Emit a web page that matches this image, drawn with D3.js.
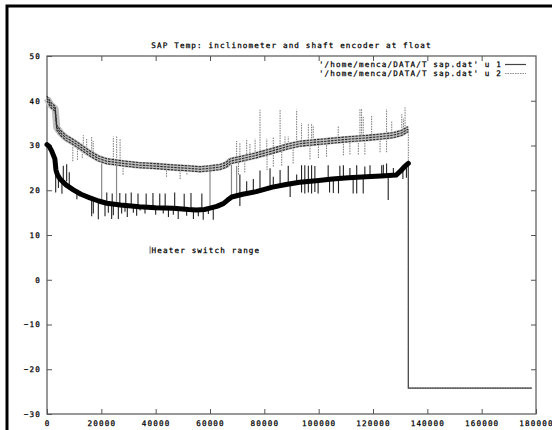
<!DOCTYPE html>
<html>
<head>
<meta charset="utf-8">
<script src="https://cdn.jsdelivr.net/npm/d3@7"></script>
<style>
  body { margin: 0; background: #fff; }
  text { font-family: "DejaVu Sans Mono", "Liberation Mono", monospace; font-size: 7.6px; letter-spacing: 1.15px; fill: #000; stroke: #000; stroke-width: 0.25px; }
</style>
</head>
<body>
<svg id="chart" width="552" height="430"></svg>
<script>
// ---- data -------------------------------------------------------------
const titleText = "SAP Temp: inclinometer and shaft encoder at float";
const seriesNames = ["'/home/menca/DATA/T sap.dat' u 1", "'/home/menca/DATA/T sap.dat' u 2"];
const noteText = "Heater switch range";
const notePos = [38500, 6.6];

const xTicks = [0, 20000, 40000, 60000, 80000, 100000, 120000, 140000, 160000, 180000];
const yTicks = [-30, -20, -10, 0, 10, 20, 30, 40, 50];

// inclinometer temperature, main trace [time, degC]
const u1Trace = [
  [0, 30.2], [800, 29.8], [1700, 28.8], [2900, 27.0], [3300, 24.5], [3800, 23.5],
  [4800, 22.5], [7000, 21.2], [9700, 20.1], [12500, 19.1], [15800, 18.3], [19000, 17.6],
  [22000, 17.1], [27000, 16.7], [34000, 16.3], [40000, 16.1], [46500, 16.0], [52000, 15.7],
  [55000, 15.6], [58000, 15.7], [60000, 16.0], [62500, 16.4], [64900, 17.0], [66500, 17.8],
  [68000, 18.5], [72000, 19.1], [77000, 19.7], [83000, 20.7], [88000, 21.3], [93000, 21.8],
  [100000, 22.2], [105000, 22.5], [111000, 22.8], [117500, 23.0], [123000, 23.2],
  [128500, 23.4], [130000, 24.2], [131500, 25.2], [133000, 26.0]
];

// shaft encoder temperature, main trace [time, degC]
const u2Trace = [
  [0, 40.5], [1500, 39.0], [3000, 38.2], [3600, 34.0], [5000, 32.8], [7000, 31.7],
  [9600, 30.8], [12500, 29.6], [15800, 28.2], [19000, 27.1], [22000, 26.5], [28000, 26.0],
  [34000, 25.6], [40000, 25.4], [46500, 25.1], [52000, 24.9], [56300, 24.7], [60000, 24.9],
  [63700, 25.2], [66000, 25.7], [67500, 26.5], [72000, 27.1], [77000, 27.8], [83000, 28.8],
  [88000, 29.7], [93000, 30.4], [100000, 30.8], [105300, 31.1], [111000, 31.4],
  [117700, 31.7], [123000, 32.0], [127400, 32.3], [130500, 32.8], [132400, 33.5], [133000, 33.6]
];

// single-sample glitches of u 1: [time, low, high]
const u1Spikes = [
  [3200, 19.5, 27.5], [4200, 20.5, 23.5], [5500, 19.2, 22.5], [6000, 21.8, 25.5],
  [7240, 22.0, 25.8], [8200, 20.6, 24.0], [11000, 18.0, 19.8],
  [16440, 14.2, 18.3], [17050, 14.8, 18.1], [18890, 13.5, 17.8], [21350, 14.2, 17.2],
  [22580, 15.0, 17.0], [23800, 13.6, 17.0], [24420, 14.4, 17.0], [26260, 13.6, 16.8],
  [27480, 14.8, 16.7], [28710, 15.2, 16.6], [29560, 14.0, 16.6], [31780, 15.0, 16.4],
  [33000, 14.3, 16.4], [34230, 15.5, 16.3], [36070, 14.8, 16.3],
  [22000, 16.8, 19.5], [24000, 16.6, 19.3], [26800, 16.5, 19.4], [29000, 16.4, 19.3],
  [31000, 16.3, 19.5], [33500, 16.2, 19.3], [36500, 16.1, 19.3], [39000, 16.0, 19.4],
  [41500, 16.0, 19.3], [43500, 16.0, 19.3], [47000, 15.9, 19.5], [50500, 15.8, 19.2],
  [53000, 15.7, 19.4], [57000, 15.7, 19.3],
  [40000, 14.5, 16.0], [42800, 14.8, 16.0], [44700, 14.0, 16.0], [46500, 14.5, 16.0],
  [48300, 13.6, 16.0], [51400, 14.3, 15.8], [53900, 13.6, 15.7], [55700, 14.2, 15.6],
  [57500, 13.4, 15.7], [59400, 14.7, 16.0], [61200, 13.4, 16.2],
  [71000, 16.5, 23.5], [73500, 19.0, 22.0], [75950, 19.5, 22.5], [78400, 19.5, 24.4],
  [82100, 20.2, 24.9], [83300, 20.5, 23.0], [85800, 20.8, 24.5], [88800, 21.2, 25.5],
  [89500, 18.5, 21.3], [91900, 21.5, 23.5],
  [93700, 19.5, 25.6], [94900, 19.3, 25.6], [96200, 19.5, 25.5], [97400, 19.3, 25.6],
  [98600, 19.6, 25.4], [99800, 19.3, 22.1], [103500, 22.4, 25.6], [104000, 19.5, 22.4],
  [105400, 19.4, 22.5], [107300, 19.3, 22.6], [107800, 22.6, 25.5], [109100, 22.7, 25.6],
  [111500, 22.8, 25.0], [112700, 19.3, 22.8], [114000, 19.3, 25.6], [116400, 19.3, 23.0],
  [117000, 23.0, 25.3], [118900, 23.0, 25.6], [123200, 23.1, 25.6], [123800, 23.1, 25.7],
  [125000, 23.2, 26.0], [125600, 17.8, 23.2], [127500, 23.3, 25.0], [131000, 22.5, 25.0],
  [132300, 22.8, 26.0]
];

// long glitches of u 1 reaching up to the u 2 trace: [time, low, high]
const u1Bridges = [
  [20130, 17.5, 26.0], [25600, 16.8, 26.0], [60000, 15.6, 25.6],
  [67900, 18.5, 25.7], [69800, 18.8, 25.5]
];

// single-sample glitches of u 2: [time, low, high]
const u2Spikes = [
  [9500, 26.5, 30.8], [11200, 26.8, 30.2], [13000, 27.2, 29.7], [13370, 29.3, 32.3],
  [14600, 28.9, 31.5], [16440, 28.2, 32.0], [17000, 28.0, 31.0], [24420, 26.3, 32.0],
  [25650, 26.1, 32.0], [26900, 26.0, 31.5], [28000, 23.5, 26.0], [44000, 23.0, 25.2],
  [49000, 22.5, 25.0], [51500, 23.5, 25.0],
  [69800, 26.3, 31.0], [70500, 23.5, 26.5], [71000, 26.8, 30.5], [72800, 24.0, 27.0],
  [73500, 27.0, 31.5], [74700, 27.2, 30.5], [76600, 27.5, 31.5], [78400, 27.7, 38.0],
  [80900, 28.0, 31.5], [81000, 24.5, 28.0], [83300, 25.3, 31.8], [85800, 29.2, 38.0],
  [86400, 25.5, 29.3], [87600, 29.5, 32.0], [88800, 29.6, 32.0], [90600, 26.0, 30.0],
  [91900, 30.1, 38.0],
  [93700, 30.4, 35.0], [96200, 30.5, 35.0], [96800, 26.9, 30.5], [97400, 30.5, 35.0],
  [98000, 30.6, 34.5], [99900, 27.2, 30.7], [102900, 27.5, 30.9], [107200, 31.1, 34.3],
  [109100, 27.8, 31.3], [111500, 28.0, 31.4], [114600, 28.0, 31.5], [115200, 31.6, 38.3],
  [115800, 31.6, 38.3], [116400, 31.6, 36.5], [117000, 28.0, 31.7], [119500, 31.8, 36.8],
  [122600, 28.5, 31.9], [125000, 28.5, 38.1], [126900, 32.2, 35.5], [130600, 32.8, 37.0],
  [131200, 33.0, 36.0], [131800, 33.2, 38.5]
];

// both channels fall to the same reading once logging stops
const dropLevel = -24.2;
const lastTime = 178500;

// ---- layout -----------------------------------------------------------
const svg = d3.select("#chart");
const plot = { left: 47, right: 536, top: 56, bottom: 414 };

const x = d3.scaleLinear().domain([0, 180000]).range([plot.left, plot.right]);
const y = d3.scaleLinear().domain([-30, 50]).range([plot.bottom, plot.top]);

// window frame
svg.append("path")
  .attr("d", "M7,432V6H554")
  .attr("fill", "none").attr("stroke", "#000").attr("stroke-width", 3);

// title
svg.append("text")
  .attr("x", (plot.left + plot.right) / 2).attr("y", 45)
  .attr("text-anchor", "middle").attr("dominant-baseline", "central")
  .text(titleText);

// axes with inward ticks on all four sides
const fmt = d3.format("d");
const gB = svg.append("g").attr("transform", `translate(0,${plot.bottom})`)
  .call(d3.axisBottom(x).tickValues(xTicks).tickSizeInner(-5).tickSizeOuter(0).tickPadding(6).tickFormat(fmt));
const gT = svg.append("g").attr("transform", `translate(0,${plot.top})`)
  .call(d3.axisTop(x).tickValues(xTicks.slice(1, -1)).tickSizeInner(-5).tickSizeOuter(0).tickFormat(""));
const gL = svg.append("g").attr("transform", `translate(${plot.left},0)`)
  .call(d3.axisLeft(y).tickValues(yTicks).tickSizeInner(-5).tickSizeOuter(0).tickPadding(6).tickFormat(fmt));
const gR = svg.append("g").attr("transform", `translate(${plot.right},0)`)
  .call(d3.axisRight(y).tickValues(yTicks.slice(1, -1)).tickSizeInner(-5).tickSizeOuter(0).tickFormat(""));
[gB, gT, gL, gR].forEach(g => {
  g.select(".domain").remove();
  g.selectAll(".tick line").attr("stroke", "#555");
  g.selectAll("text").attr("fill", "#000");
  g.attr("font-family", null).attr("font-size", null);
});
gB.selectAll("text").attr("dy", "0.85em");

// plot border
svg.append("rect")
  .attr("x", plot.left).attr("y", plot.top)
  .attr("width", plot.right - plot.left).attr("height", plot.bottom - plot.top)
  .attr("fill", "none").attr("stroke", "#555").attr("stroke-width", 1.2);

const line = d3.line().x(d => x(d[0])).y(d => y(d[1]));

// ---- u 2 (dotted) ----------------------------------------------------
const g2 = svg.append("g");
g2.selectAll("line.spike2").data(u2Spikes).join("line")
  .attr("x1", d => x(d[0])).attr("x2", d => x(d[0]))
  .attr("y1", d => y(d[1])).attr("y2", d => y(d[2]))
  .attr("stroke", "#777").attr("stroke-width", 1).attr("stroke-dasharray", "1.5 1");

const last2 = u2Trace[u2Trace.length - 1];
g2.append("path")
  .datum([last2, [last2[0], dropLevel], [lastTime, dropLevel]])
  .attr("d", line).attr("fill", "none")
  .attr("stroke", "#777").attr("stroke-width", 1).attr("stroke-dasharray", "1.5 1");

// noisy band: grey body with dark dashed strands
g2.append("path").datum(u2Trace).attr("d", line)
  .attr("fill", "none").attr("stroke", "#bdbdbd").attr("stroke-width", 7)
  .attr("stroke-linejoin", "round");
[-2.5, 0, 2.5].forEach(dy => {
  g2.append("path").datum(u2Trace).attr("d", line)
    .attr("transform", `translate(0,${dy})`)
    .attr("fill", "none").attr("stroke", "#2a2a2a").attr("stroke-width", 1.1)
    .attr("stroke-dasharray", "2.5 1");
});

// ---- u 1 (solid) ------------------------------------------------------
const g1 = svg.append("g");
g1.selectAll("line.bridge").data(u1Bridges).join("line")
  .attr("x1", d => x(d[0])).attr("x2", d => x(d[0]))
  .attr("y1", d => y(d[1])).attr("y2", d => y(d[2]))
  .attr("stroke", "#888").attr("stroke-width", 1.2);
g1.selectAll("line.spike1").data(u1Spikes).join("line")
  .attr("x1", d => x(d[0])).attr("x2", d => x(d[0]))
  .attr("y1", d => y(d[1])).attr("y2", d => y(d[2]))
  .attr("stroke", "#222").attr("stroke-width", 1.1);

const last1 = u1Trace[u1Trace.length - 1];
g1.append("path")
  .datum([last1, [last1[0], dropLevel], [lastTime, dropLevel]])
  .attr("d", line).attr("fill", "none")
  .attr("stroke", "#444").attr("stroke-width", 1.2);

g1.append("path").datum(u1Trace).attr("d", line)
  .attr("fill", "none").attr("stroke", "#000").attr("stroke-width", 5)
  .attr("stroke-linejoin", "round").attr("stroke-linecap", "round");

// ---- annotation ---------------------------------------------------------
const nx = x(notePos[0]), ny = y(notePos[1]);
svg.append("line")
  .attr("x1", nx - 1.5).attr("x2", nx - 1.5).attr("y1", ny - 4).attr("y2", ny + 3.5)
  .attr("stroke", "#666").attr("stroke-width", 1);
svg.append("text").attr("x", nx).attr("y", ny)
  .attr("dominant-baseline", "central").text(noteText);

// ---- legend -------------------------------------------------------------
const legend = svg.append("g");
seriesNames.forEach((name, i) => {
  const ly = 64.5 + i * 9;
  legend.append("text").attr("x", 502).attr("y", ly)
    .attr("text-anchor", "end").attr("dominant-baseline", "central").text(name);
  legend.append("line").attr("x1", 505).attr("x2", 526).attr("y1", ly).attr("y2", ly)
    .attr("stroke", i === 0 ? "#444" : "#888").attr("stroke-width", 1.2)
    .attr("stroke-dasharray", i === 0 ? null : "1.5 1");
});
</script>
</body>
</html>
